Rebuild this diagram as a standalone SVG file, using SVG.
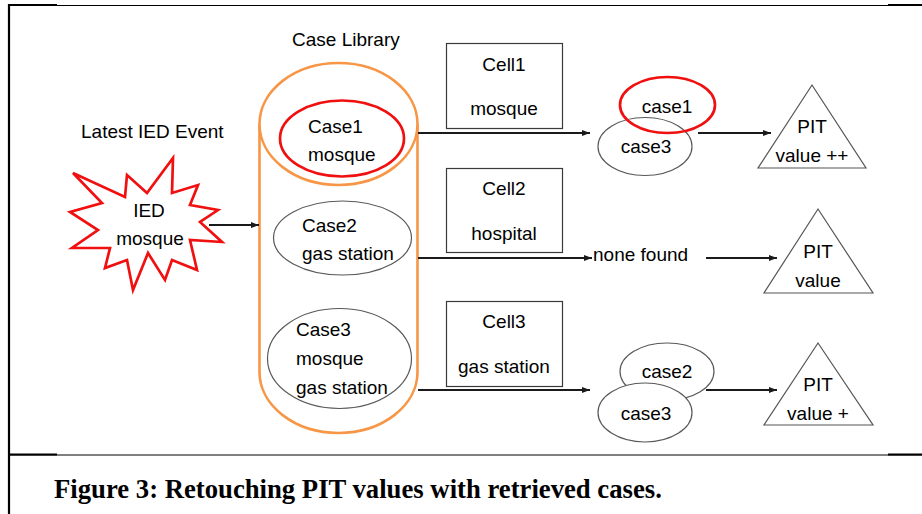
<svg xmlns="http://www.w3.org/2000/svg" width="922" height="514" viewBox="0 0 922 514">
<style>
text{font-family:"Liberation Sans",Arial,sans-serif;font-size:19px;fill:#000}
.c{text-anchor:middle}
.cap{font-family:"Liberation Serif","Times New Roman",serif;font-weight:bold;font-size:26.7px}
.gray{fill:#fff;stroke:#595959;stroke-width:1.2}
.red{fill:none;stroke:#f01010;stroke-width:2.7}
.box{fill:#fff;stroke:#3a3a3a;stroke-width:1.2}
.tri{fill:#fff;stroke:#555;stroke-width:1.2}
.ar{fill:none;stroke:#1a1a1a;stroke-width:1.8;marker-end:url(#ah)}
.fr{stroke:#000;fill:none}
</style>
<defs>
<marker id="ah" viewBox="0 0 8 6" refX="8" refY="3" markerWidth="8" markerHeight="6" markerUnits="userSpaceOnUse" orient="auto">
<path d="M0,0 L8,3 L0,6 z" fill="#1a1a1a"/>
</marker>
</defs>
<rect width="922" height="514" fill="#fff"/>
<g id="frame">
<line class="fr" x1="9" y1="5.5" x2="922" y2="5.5" stroke-width="1"/>
<line class="fr" x1="9" y1="5" x2="57" y2="5" stroke-width="2"/>
<line class="fr" x1="888" y1="5" x2="922" y2="5" stroke-width="2"/>
<line class="fr" x1="9" y1="4" x2="9" y2="514" stroke-width="2.2"/>
<line class="fr" x1="9" y1="455" x2="922" y2="455" stroke-width="1"/>
<line class="fr" x1="9" y1="454.5" x2="57" y2="454.5" stroke-width="2"/>
<line class="fr" x1="888" y1="454.5" x2="922" y2="454.5" stroke-width="2"/>
</g>
<g id="labels">
<text x="81" y="138">Latest IED Event</text>
<text x="292" y="46">Case Library</text>
</g>
<g id="event">
<polygon points="73,173 125,197 127,175 147,193 173,158 172,193 198,185 190,205 218,210 200,222 222,242 190,240 197,270 172,260 165,280 148,253 133,290 127,260 105,268 110,248 72,248 98,230 70,212 102,203" fill="#fff" stroke="#f01010" stroke-width="2.7" stroke-linejoin="miter"/>
<text class="c" x="149" y="217">IED</text>
<text class="c" x="150" y="245">mosque</text>
</g>
<g id="case-library">
<path d="M259.5,124 L259.5,372 A79,61 0 0 0 417.5,372 L417.5,124" fill="#fff" stroke="#f79646" stroke-width="2.6"/>
<ellipse cx="338.5" cy="124" rx="79" ry="61" fill="#fff" stroke="#f79646" stroke-width="2.6"/>
</g>
<g id="case1">
<ellipse class="red" cx="342" cy="138.5" rx="62" ry="38"/>
<text x="308" y="133">Case1</text>
<text x="308" y="161">mosque</text>
</g>
<g id="case2">
<ellipse class="gray" cx="342.5" cy="238" rx="69" ry="37"/>
<text x="302" y="232">Case2</text>
<text x="302" y="260">gas station</text>
</g>
<g id="case3">
<ellipse class="gray" cx="339.5" cy="358.5" rx="72" ry="50"/>
<text x="296" y="336">Case3</text>
<text x="296" y="365">mosque</text>
<text x="296" y="394">gas station</text>
</g>
<g id="cell1">
<rect class="box" x="446.5" y="43.5" width="116" height="85"/>
<text class="c" x="504" y="71">Cell1</text>
<text class="c" x="504" y="115">mosque</text>
</g>
<g id="cell2">
<rect class="box" x="446.5" y="168.5" width="116" height="84"/>
<text class="c" x="504" y="195">Cell2</text>
<text class="c" x="504" y="240">hospital</text>
</g>
<g id="cell3">
<rect class="box" x="446.5" y="301.5" width="116" height="85"/>
<text class="c" x="504" y="328">Cell3</text>
<text class="c" x="504" y="373">gas station</text>
</g>
<g id="result1">
<ellipse class="gray" cx="645" cy="146.5" rx="47" ry="29"/>
<ellipse class="red" cx="667.5" cy="105" rx="47.5" ry="28"/>
<text class="c" x="667" y="113">case1</text>
<text class="c" x="646" y="153">case3</text>
</g>
<g id="none-found">
<text x="593" y="261">none found</text>
</g>
<g id="result3">
<ellipse class="gray" cx="667" cy="371.5" rx="47" ry="28.5"/>
<ellipse class="gray" cx="645" cy="412.5" rx="47" ry="29.5" fill="none"/>
<text class="c" x="667" y="378">case2</text>
<text class="c" x="646" y="420">case3</text>
</g>
<g id="pit1">
<polygon class="tri" points="812,85 866,168 758,168"/>
<text class="c" x="812" y="133">PIT</text>
<text class="c" x="812" y="162">value ++</text>
</g>
<g id="pit2">
<polygon class="tri" points="818,209 873,293 764,293"/>
<text class="c" x="818" y="258">PIT</text>
<text class="c" x="818" y="287">value</text>
</g>
<g id="pit3">
<polygon class="tri" points="818,343 873,425 764,425"/>
<text class="c" x="818" y="391">PIT</text>
<text class="c" x="818" y="420">value +</text>
</g>
<g id="connectors">
<line class="ar" x1="209" y1="225" x2="259" y2="225"/>
<line class="ar" x1="418" y1="133" x2="590" y2="133"/>
<line class="ar" x1="698" y1="133" x2="771" y2="133"/>
<line class="ar" x1="418" y1="258" x2="592" y2="258"/>
<line class="ar" x1="706" y1="258" x2="777" y2="258"/>
<line class="ar" x1="418" y1="390" x2="590" y2="390"/>
<line class="ar" x1="706" y1="390" x2="777" y2="390"/>
</g>
<g id="caption">
<text class="cap" x="54" y="498">Figure 3: Retouching PIT values with retrieved cases.</text>
</g>
</svg>
